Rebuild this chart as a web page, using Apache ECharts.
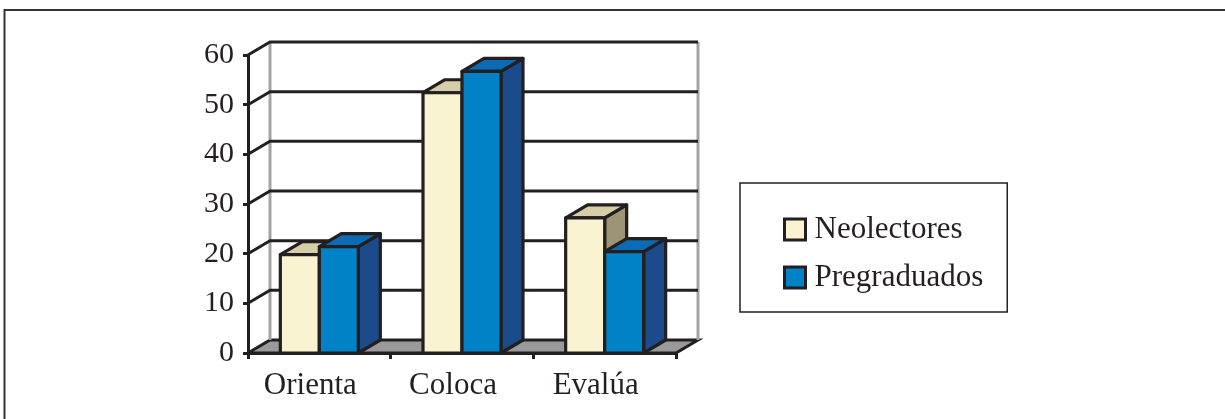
<!DOCTYPE html>
<html>
<head>
<meta charset="utf-8">
<title>ECharts</title>
<script src="https://cdn.jsdelivr.net/npm/echarts@6/dist/echarts.min.js"></script>
<style>
  html, body { margin: 0; padding: 0; background: #fff; }
</style>
</head>
<body>
<div id="main" style="width: 1225px;height:419px;"></div>
<script type="text/javascript">
    // datos
    var categories = ['Orienta', 'Coloca', 'Evalúa'];
    var seriesNames = ['Neolectores', 'Pregraduados'];
    var neolectores = [19.8, 52.4, 27.2];
    var pregraduados = [21.4, 56.7, 20.4];
    var yTicks = [0, 10, 20, 30, 40, 50, 60];

    // estilo 3D
    var DX = 22, DY = -13, BAR_W = 39;
    var INK = '#231f20';
    var FONT = 'Liberation Serif';
    var colors = [
        { front: '#f9f3d1', top: '#d6cea8', side: '#9c9474' },
        { front: '#0181c6', top: '#0b6bb5', side: '#1b4b8a' }
    ];

    var myChart = echarts.init(document.getElementById('main'));

    function wallItem(params, api) {
        var cs = params.coordSys;
        var p = api.coord([0, api.value(0)]);
        var y = p[1];
        var x0 = cs.x, x1 = cs.x + cs.width;
        var children = [];
        if (api.value(0) === 0) {
            children.push({
                type: 'polygon',
                shape: { points: [[x0, y], [x0 + DX, y + DY], [x1 + DX, y + DY], [x1, y]] },
                style: { fill: '#9a9a9a', stroke: INK, lineWidth: 3 }
            });
            children.push({
                type: 'line',
                shape: { x1: x0 + DX, y1: cs.y + DY, x2: x0 + DX, y2: y + DY },
                style: { stroke: '#a3a3a3', lineWidth: 3 }
            });
            children.push({
                type: 'line',
                shape: { x1: x1 + DX, y1: cs.y + DY, x2: x1 + DX, y2: y + DY },
                style: { stroke: '#a3a3a3', lineWidth: 3 }
            });
        } else {
            children.push({
                type: 'polyline',
                shape: { points: [[x0, y], [x0 + DX, y + DY], [x1 + DX, y + DY]] },
                style: { stroke: INK, lineWidth: 3, fill: null }
            });
        }
        return { type: 'group', children: children };
    }

    function barItem(sIdx) {
        var c = colors[sIdx];
        return function (params, api) {
            var i = api.value(0), v = api.value(1);
            var base = api.coord([i, 0]);
            var top = api.coord([i, v]);
            var x0 = base[0] + (sIdx === 0 ? -BAR_W : 0);
            var x1 = x0 + BAR_W;
            var yb = base[1], yt = top[1];
            var st = { stroke: INK, lineWidth: 3.2, lineJoin: 'round' };
            return {
                type: 'group',
                children: [{
                    type: 'polygon',
                    shape: { points: [[x1, yb], [x1 + DX, yb + DY], [x1 + DX, yt + DY], [x1, yt]] },
                    style: Object.assign({ fill: c.side }, st)
                }, {
                    type: 'polygon',
                    shape: { points: [[x0, yt], [x1, yt], [x1 + DX, yt + DY], [x0 + DX, yt + DY]] },
                    style: Object.assign({ fill: c.top }, st)
                }, {
                    type: 'polygon',
                    shape: { points: [[x0, yb], [x1, yb], [x1, yt], [x0, yt]] },
                    style: Object.assign({ fill: c.front }, st)
                }]
            };
        };
    }

    var option = {
        animation: false,
        backgroundColor: '#fff',
        graphic: [{
            type: 'polyline',
            shape: { points: [[4.5, 430], [4.5, 10], [1230, 10]] },
            style: { stroke: '#333', lineWidth: 2, fill: null },
            silent: true
        }],
        grid: { left: 248, top: 55, width: 428, height: 298 },
        legend: {
            orient: 'vertical',
            left: 740,
            top: 183,
            padding: [31, 24, 19, 43],
            itemGap: 17,
            itemWidth: 21,
            itemHeight: 21,
            icon: 'rect',
            borderColor: INK,
            borderWidth: 1.5,
            textStyle: { fontFamily: FONT, fontSize: 31, lineHeight: 31, color: INK, padding: [0, 0, 0, 4] },
            data: seriesNames.map(function (n, k) {
                return { name: n, itemStyle: { color: colors[k].front, borderColor: INK, borderWidth: 3 } };
            })
        },
        xAxis: {
            type: 'category',
            data: categories,
            axisLine: { lineStyle: { color: INK, width: 3 } },
            axisTick: { show: true, length: 6, lineStyle: { color: INK, width: 3 } },
            axisLabel: {
                fontFamily: FONT, fontSize: 31, color: INK, margin: 17,
                padding: [0, 18, 0, 0]
            },
            splitLine: { show: false }
        },
        yAxis: {
            type: 'value',
            min: 0,
            max: 60,
            interval: 10,
            axisLine: { show: true, lineStyle: { color: INK, width: 3 } },
            axisTick: { show: true, length: 5, lineStyle: { color: INK, width: 3 } },
            axisLabel: { fontFamily: FONT, fontSize: 30, color: INK, margin: 14 },
            splitLine: { show: false }
        },
        series: [{
            type: 'custom',
            name: 'wall',
            silent: true,
            renderItem: wallItem,
            data: yTicks.map(function (t) { return [t]; }),
            encode: { y: 0 },
            z: 1
        }, {
            type: 'custom',
            name: seriesNames[0],
            renderItem: barItem(0),
            itemStyle: { color: colors[0].front },
            data: neolectores.map(function (v, i) { return [i, v]; }),
            encode: { x: 0, y: 1 },
            z: 3
        }, {
            type: 'custom',
            name: seriesNames[1],
            renderItem: barItem(1),
            itemStyle: { color: colors[1].front },
            data: pregraduados.map(function (v, i) { return [i, v]; }),
            encode: { x: 0, y: 1 },
            z: 4
        }]
    };

    myChart.setOption(option);
</script>
</body>
</html>
